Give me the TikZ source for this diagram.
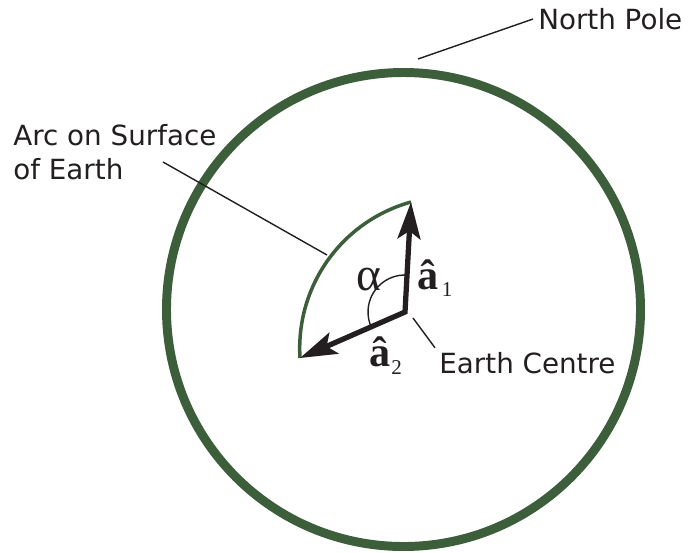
\documentclass[tikz,border=0pt]{standalone}
\usepackage{fontspec}
\setmainfont{DejaVu Sans}
\newfontfamily\serifgreek{Liberation Serif}
\usetikzlibrary{arrows.meta}
\definecolor{EarthGreen}{HTML}{3C5E3A}
\definecolor{InkBlack}{HTML}{231F20}

\begin{document}
\begin{tikzpicture}[x=0.02cm, y=-0.02cm, >={Stealth[length=21pt, width=13pt, inset=4.5pt]},
  font=\fontsize{15.8pt}{19.3pt}\selectfont, text=InkBlack,
  leader/.style={draw=InkBlack, line width=0.8pt},
  vectorlabel/.style={inner sep=0pt, font=\serifgreek\fontsize{24pt}{26pt}\selectfont\bfseries}]
  \useasboundingbox (0,0) rectangle (688,552);

  % The Earth, seen from above the pole.
  \draw[EarthGreen, line width=5.1pt] (403.5,309.5) circle[radius=237];

  % Two unit vectors from the centre and the arc they cut out.
  \coordinate (O) at (405,312);
  \coordinate (A1) at (411,202);
  \coordinate (A2) at (300,358);
  \draw[EarthGreen, line width=2pt]
    (A1) .. controls (341.6,221.3) and (295.5,286.1) .. (A2);
  \draw[InkBlack, line width=0.8pt] (O) ++(-87:37) arc[start angle=-87, end angle=-204, radius=37];
  \draw[<->, InkBlack, line width=3pt, line join=miter] (A1) -- (O) -- (A2);

  \node (alpha) [anchor=base, inner sep=0pt, font=\serifgreek\fontsize{27pt}{29pt}\selectfont] at (369,290) {α};
  \node (ahat1) [vectorlabel, anchor=base west] at (417,289)
    {â\kern2pt\raisebox{-4pt}{\mdseries\fontsize{12pt}{14pt}\selectfont 1}};
  \node (ahat2) [vectorlabel, anchor=base west] at (369,366)
    {â\kern0.5pt\raisebox{-5pt}{\mdseries\fontsize{12pt}{14pt}\selectfont 2}};

  % Labels with their leader lines.
  \coordinate (poletick) at (418,59);
  \node (pole) [anchor=west, inner sep=2.8pt] at (533,19) {North Pole};
  \draw[leader] (poletick) -- (pole.west);

  \coordinate (arctail) at (163,162);
  \coordinate (arcpoint) at (327,255);
  \node (arclabel) [anchor=north west, align=left, inner sep=0pt] at (13,124) {Arc on Surface\\of Earth};
  \draw[leader] (arctail) -- (arcpoint);

  \coordinate (centretick) at (413,318);
  \node (centrelabel) [anchor=base west, inner sep=2.3pt] at (435,373.3) {Earth Centre};
  \draw[leader] (centretick) -- (centrelabel.north west);
\end{tikzpicture}
\end{document}
